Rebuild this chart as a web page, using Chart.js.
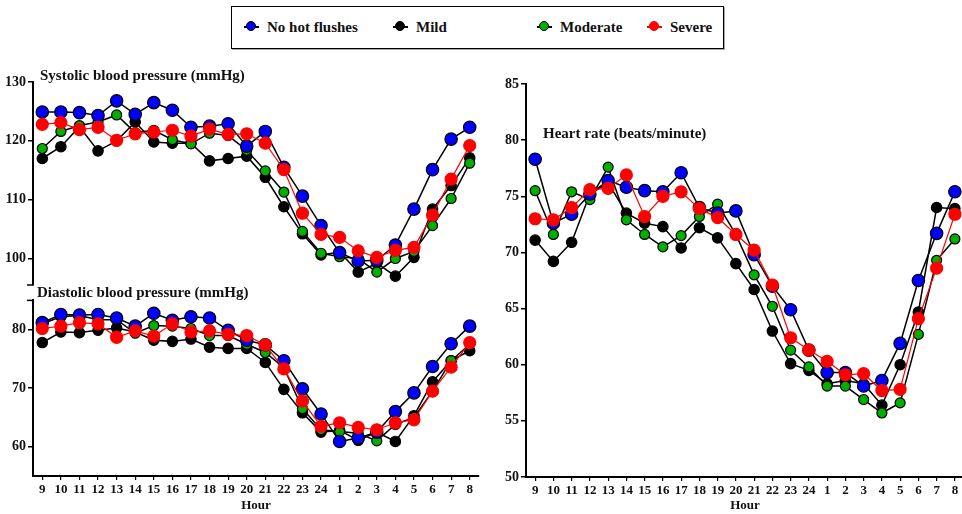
<!DOCTYPE html>
<html>
<head>
<meta charset="utf-8">
<script src="https://cdn.jsdelivr.net/npm/chart.js@4/dist/chart.umd.min.js"></script>
<style>
body{margin:0;background:#fff;width:962px;height:514px;position:relative;overflow:hidden;font-family:"Liberation Serif",serif;font-weight:bold;color:#111}
canvas{position:absolute}
.ttl{position:absolute;font-size:15px;white-space:nowrap;line-height:16px}
#legend{position:absolute;left:231px;top:6px;width:491px;height:41px;border:1px solid #000;box-shadow:1px 1px 0 #aaa}
.lbl{position:absolute;top:0;line-height:40px;font-size:15px;white-space:nowrap}
.ln{position:absolute;top:19px;width:15px;height:1.5px}
.dot{position:absolute;top:14px;width:10px;height:10px;border-radius:50%;box-sizing:border-box}
</style>
</head>
<body>
<div id="legend"></div>
<canvas id="sysChart" width="490" height="240" style="left:0;top:60px"></canvas>
<canvas id="diaChart" width="490" height="224" style="left:0;top:290px"></canvas>
<canvas id="hrChart" width="482" height="454" style="left:490px;top:60px"></canvas>
<div class="ttl" style="left:40px;top:67px">Systolic blood pressure (mmHg)</div>
<div class="ttl" style="left:37px;top:284px">Diastolic blood pressure (mmHg)</div>
<div class="ttl" style="left:543px;top:125px">Heart rate (beats/minute)</div>
<script>
const hours = ['9','10','11','12','13','14','15','16','17','18','19','20','21','22','23','24','1','2','3','4','5','6','7','8'];
const seriesNames = ['No hot flushes','Mild','Moderate','Severe'];

// systolic blood pressure (mmHg)
const sysNone = [124.9,124.9,124.8,124.3,126.8,124.5,126.5,125.2,122.3,122.5,122.9,119.1,121.6,115.5,110.6,105.6,101.0,99.6,99.7,102.3,108.4,115.1,120.3,122.3];
const sysMild = [117.0,119.0,122.4,118.3,120.0,123.2,119.8,119.6,119.6,116.6,117.0,117.4,113.8,108.8,104.2,100.6,101.1,97.7,99.2,97.0,100.2,108.4,112.4,117.1];
const sysModerate = [118.7,121.6,122.6,123.2,124.4,121.4,121.8,120.2,119.5,121.3,120.9,118.4,114.9,111.3,104.6,100.9,100.3,100.0,97.7,100.0,101.2,105.6,110.2,116.2];
const sysSevere = [122.8,123.1,121.9,122.3,120.1,121.2,121.5,121.8,120.8,122.0,121.1,121.2,119.6,115.1,107.7,104.1,103.6,101.3,100.2,101.4,101.9,107.4,113.5,119.2];

// diastolic blood pressure (mmHg)
const diaNone = [81.2,82.6,82.5,82.6,82.0,80.6,82.8,81.6,82.2,82.0,79.9,78.2,77.4,74.7,69.9,65.6,60.9,61.5,62.5,66.0,69.2,73.7,77.6,80.6];
const diaMild = [77.8,79.6,79.5,79.9,80.3,79.6,78.2,78.0,78.4,77.0,76.8,76.8,74.4,69.8,65.8,62.5,62.8,61.1,62.5,60.9,65.3,71.1,74.7,76.4];
const diaModerate = [81.0,82.2,82.4,81.7,81.7,79.4,80.7,80.6,80.2,79.0,79.0,77.5,76.1,73.5,66.5,62.9,62.6,62.3,61.0,63.8,65.0,69.5,74.7,77.5];
const diaSevere = [80.2,80.6,81.2,81.0,78.7,79.8,78.9,81.0,79.6,79.8,79.2,79.0,77.4,73.3,67.8,63.5,64.1,63.3,62.9,64.1,64.6,69.5,73.6,77.8];

// heart rate (beats/minute)
const hrNone = [78.3,72.6,73.4,75.2,76.4,75.8,75.5,75.4,77.1,74.0,73.5,73.7,69.8,67.0,64.9,61.3,59.3,59.3,58.1,58.6,61.9,67.5,71.7,75.4];
const hrMild = [71.1,69.2,70.9,75.2,76.2,73.5,72.6,72.3,70.4,72.2,71.3,69.0,66.7,63.0,60.1,59.5,58.3,58.6,58.3,56.4,60.0,64.7,74.0,73.9];
const hrModerate = [75.5,71.6,75.4,74.7,77.6,72.9,71.6,70.5,71.5,73.2,74.3,71.6,68.0,65.2,61.3,59.8,58.1,58.1,56.9,55.7,56.6,62.7,69.3,71.2];
const hrSevere = [73.0,72.9,74.0,75.6,75.7,76.9,73.2,75.0,75.4,73.9,73.1,71.6,70.2,67.1,62.4,61.3,60.3,59.1,59.2,57.7,57.8,64.1,68.6,73.4];

const sysTicks = [100,110,120,130];
const diaTicks = [60,70,80];
const hrTicks = [50,55,60,65,70,75,80,85];

const fills = ['#0000ff','#000000','#00b000','#ff0000'];
const tickFont = {family:'"Liberation Serif", serif', size:14, weight:'bold'};
const xFont = {family:'"Liberation Serif", serif', size:13, weight:'bold'};

// legend box
const legend = document.getElementById('legend');
const markAt = [19,168,312,422];
seriesNames.forEach((name,i) => {
  const lc = i === 3 ? '#ff0000' : '#000';
  legend.insertAdjacentHTML('beforeend',
    '<div class="ln" style="left:'+(markAt[i]-7.5)+'px;background:'+lc+'"></div>' +
    '<div class="dot" style="left:'+(markAt[i]-5)+'px;background:'+fills[i]+';border:1px solid '+(i===3?'#ff0000':'#000')+'"></div>' +
    '<div class="lbl" style="left:'+(markAt[i]+16)+'px">'+name+'</div>');
});

function makeSets(none, mild, moderate, severe) {
  const arr = [none, mild, moderate, severe];
  const order = [1,3,2,0];
  const radius = [6.2,5.2,5,6];
  return arr.map((d,i) => ({
    label: seriesNames[i],
    data: d,
    borderColor: i === 3 ? '#ff0000' : '#000',
    borderWidth: i === 3 ? 1.2 : 1.5,
    pointBackgroundColor: fills[i],
    pointBorderColor: i === 3 ? '#ff0000' : '#000',
    pointBorderWidth: 1.2,
    pointRadius: radius[i],
    tension: 0,
    clip: false,
    order: order[i]
  }));
}

// little break marks on the split y axis
const breakMarks = {
  id: 'breakMarks',
  afterDraw(chart, args, opts) {
    if (!opts.where) return;
    const ctx = chart.ctx;
    const a = chart.chartArea;
    const y = opts.where === 'bottom' ? a.bottom : a.top;
    ctx.save();
    ctx.strokeStyle = '#000';
    ctx.lineWidth = 1.5;
    ctx.beginPath();
    ctx.moveTo(a.left - 6, y);
    ctx.lineTo(a.left, y);
    ctx.stroke();
    ctx.restore();
  }
};

function makeChart(id, sets, yMin, yMax, yTicks, showX, pad, yWidth, xHeight, brk) {
  return new Chart(document.getElementById(id), {
    type: 'line',
    data: {labels: hours, datasets: sets},
    plugins: [breakMarks],
    options: {
      responsive: false,
      animation: false,
      layout: {padding: pad},
      plugins: {legend: {display: false}, tooltip: {enabled: false}, breakMarks: {where: brk}},
      scales: {
        x: {
          type: 'category',
          offset: true,
          display: showX,
          afterFit: s => { s.height = xHeight; s.paddingLeft = 0; s.paddingRight = 0; },
          grid: {display: true, drawOnChartArea: false, drawTicks: true, tickLength: 4, color: '#000', lineWidth: 1.2, offset: false},
          border: {display: true, color: '#000', width: 2},
          ticks: {color: '#111', font: xFont, padding: 2, maxRotation: 0, autoSkip: false},
          title: {display: true, text: 'Hour', color: '#111', font: xFont, padding: {top: 0, bottom: 1}}
        },
        y: {
          min: yMin,
          max: yMax,
          afterBuildTicks: s => { s.ticks = yTicks.map(v => ({value: v})); },
          afterFit: s => { s.width = yWidth; },
          grid: {display: true, drawOnChartArea: false, drawTicks: true, tickLength: 5, color: '#000', lineWidth: 1.5},
          border: {display: true, color: '#000', width: 2},
          ticks: {color: '#111', font: tickFont, padding: 2}
        }
      }
    }
  });
}

makeChart('sysChart', makeSets(sysNone, sysMild, sysModerate, sysSevere), 95.5, 130, sysTicks, false,
  {left: 0, right: 11, top: 22, bottom: 15}, 33, 0, 'bottom');
makeChart('diaChart', makeSets(diaNone, diaMild, diaModerate, diaSevere), 55, 85, diaTicks, true,
  {left: 0, right: 11, top: 8, bottom: 0}, 33, 38, 'top');
makeChart('hrChart', makeSets(hrNone, hrMild, hrModerate, hrSevere), 50, 85, hrTicks, true,
  {left: 0, right: 8, top: 24, bottom: 0}, 36, 37, null);
</script>
</body>
</html>
